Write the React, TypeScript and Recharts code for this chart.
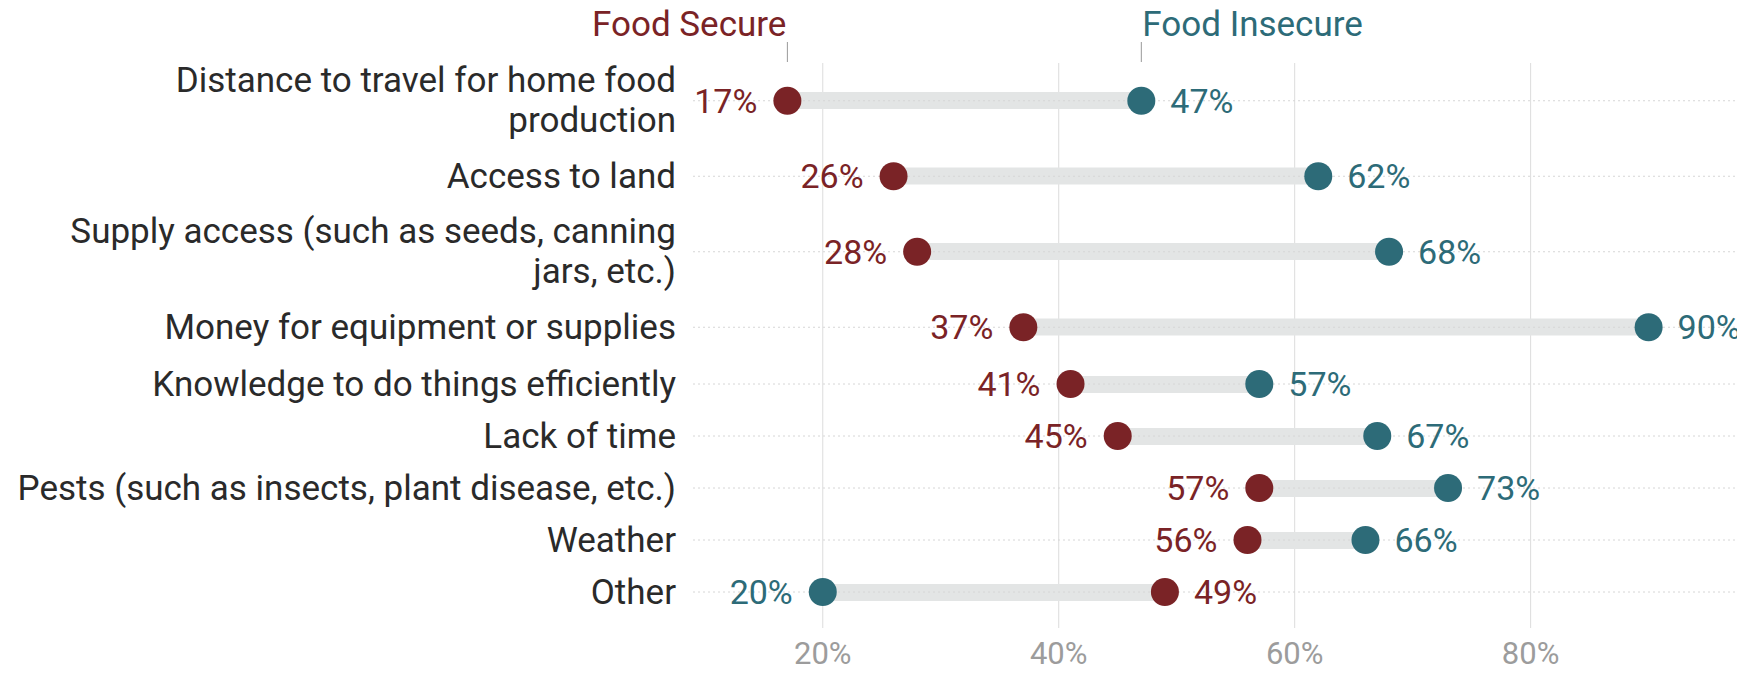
import React from 'react';
import {
  ComposedChart,
  Bar,
  Line,
  XAxis,
  YAxis,
  CartesianGrid,
  LabelList,
  ReferenceLine,
} from 'recharts';

// barriers to home food production, share of respondents
const categories = [
  'Distance to travel for home food\nproduction',
  'Access to land',
  'Supply access (such as seeds, canning\njars, etc.)',
  'Money for equipment or supplies',
  'Knowledge to do things efficiently',
  'Lack of time',
  'Pests (such as insects, plant disease, etc.)',
  'Weather',
  'Other',
];
const secure = [17, 26, 28, 37, 41, 45, 57, 56, 49];
const insecure = [47, 62, 68, 90, 57, 67, 73, 66, 20];
const xTicks = [20, 40, 60, 80];
const seriesNames = ['Food Secure', 'Food Insecure'];

const RED = '#7a2326';
const TEAL = '#2d6b78';
const FONT = 'Roboto, sans-serif';
const W = 1737;
const H = 673;
const DOMAIN: [number, number] = [9, 98];

type Row = { name: string; secure: number; insecure: number; range: [number, number] };

const rows: Row[] = categories.map((name, i) => ({
  name,
  secure: secure[i],
  insecure: insecure[i],
  range: [Math.min(secure[i], insecure[i]), Math.max(secure[i], insecure[i])],
}));

const CategoryTick = (props: any) => {
  const { x, y, payload } = props;
  const lines = String(payload.value).split('\n');
  return (
    <text x={x} y={y} textAnchor="end" fontSize={35} fill="#2a2a2a" fontFamily={FONT}>
      {lines.map((l, i) => (
        <tspan key={i} x={x} y={y + (i - (lines.length - 1) / 2) * 40} dominantBaseline="central">
          {l}
        </tspan>
      ))}
    </text>
  );
};

const HeaderTick = (props: any) => {
  const { x, y, index } = props;
  const left = secure[0] <= insecure[0] ? index === 0 : index === 1;
  const color = index === 0 ? RED : TEAL;
  return (
    <g>
      <text
        x={left ? x - 1 : x + 1}
        y={y - 27}
        textAnchor={left ? 'end' : 'start'}
        fontSize={35}
        fill={color}
        fontFamily={FONT}
      >
        {seriesNames[index]}
      </text>
      <line x1={x} x2={x} y1={y - 21} y2={y - 1} stroke="#999" strokeWidth={1} />
    </g>
  );
};

const makeLabel = (data: Row[], key: 'secure' | 'insecure') => (props: any) => {
  const vb = props.viewBox || {};
  const cx = props.x ?? vb.x;
  const cy = props.y ?? vb.y;
  const row = data[props.index];
  if (!row || cx == null) return null;
  const other = key === 'secure' ? row.insecure : row.secure;
  const toLeft = row[key] < other;
  return (
    <text
      x={toLeft ? cx - 30 : cx + 29}
      y={cy}
      textAnchor={toLeft ? 'end' : 'start'}
      dominantBaseline="central"
      fontSize={34}
      fill={key === 'secure' ? RED : TEAL}
      fontFamily={FONT}
    >
      {row[key]}%
    </text>
  );
};

const Series = (data: Row[], barAxis: string | number) => [
  ...data.map((r) => (
    <ReferenceLine key={`g-${r.name}`} y={r.name} stroke="#d6d6d6" strokeDasharray="2 3" />
  )),
  <Bar
    key="bar"
    xAxisId={barAxis}
    dataKey="range"
    fill="#e3e5e5"
    barSize={17}
    isAnimationActive={false}
  />,
  <Line
    key="sec"
    dataKey="secure"
    stroke="none"
    dot={{ r: 14, fill: RED, stroke: 'none' }}
    activeDot={false}
    isAnimationActive={false}
  >
    <LabelList dataKey="secure" content={makeLabel(data, 'secure')} />
  </Line>,
  <Line
    key="ins"
    dataKey="insecure"
    stroke="none"
    dot={{ r: 14, fill: TEAL, stroke: 'none' }}
    activeDot={false}
    isAnimationActive={false}
  >
    <LabelList dataKey="insecure" content={makeLabel(data, 'insecure')} />
  </Line>,
];

const yAxis = (
  <YAxis
    type="category"
    dataKey="name"
    width={685}
    axisLine={false}
    tickLine={false}
    tickSize={0}
    tickMargin={17}
    interval={0}
    tick={<CategoryTick />}
  />
);

export default function App() {
  const top = rows.slice(0, 4);
  const bottom = rows.slice(4);

  return (
    <div style={{ position: 'relative', width: W, height: H, marginTop: -8, background: '#fff' }}>
      <div style={{ position: 'absolute', left: 0, top: 0 }}>
        <ComposedChart
          width={W}
          height={H}
          data={bottom}
          layout="vertical"
          margin={{ top: 358, right: 2, bottom: 0, left: 0 }}
        >
          <CartesianGrid horizontal={false} syncWithTicks y={63} height={565} stroke="#dcdcdc" />
          <XAxis
            type="number"
            domain={DOMAIN}
            ticks={xTicks}
            tickFormatter={(v) => `${v}%`}
            axisLine={false}
            tickLine={false}
            tickSize={0}
            tickMargin={24}
            height={55}
            tick={{ fontSize: 31, fill: '#9c9c9c', fontFamily: FONT }}
          />
          {yAxis}
          {Series(bottom, 0)}
        </ComposedChart>
      </div>
      <div style={{ position: 'absolute', left: 0, top: 0 }}>
        <ComposedChart
          width={W}
          height={H}
          data={top}
          layout="vertical"
          margin={{ top: 8, right: 2, bottom: 308, left: 0 }}
        >
          <XAxis type="number" domain={DOMAIN} ticks={xTicks} hide />
          <XAxis
            xAxisId="head"
            orientation="top"
            type="number"
            domain={DOMAIN}
            ticks={[secure[0], insecure[0]]}
            axisLine={false}
            tickLine={false}
            tickSize={0}
            tickMargin={0}
            height={55}
            interval={0}
            tick={<HeaderTick />}
          />
          {yAxis}
          {Series(top, 'head')}
        </ComposedChart>
      </div>
    </div>
  );
}
